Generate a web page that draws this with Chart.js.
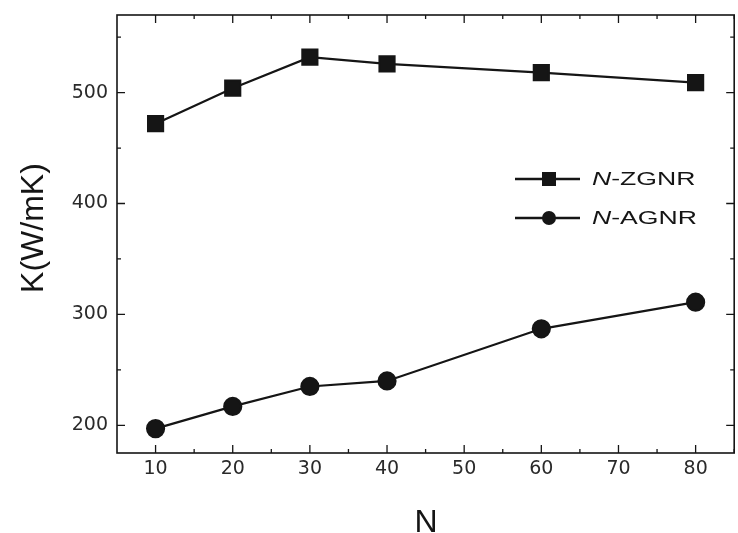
<!DOCTYPE html>
<html>
<head>
<meta charset="utf-8">
<script src="https://cdn.jsdelivr.net/npm/chart.js@4/dist/chart.umd.min.js"></script>
<style>
  html, body { margin: 0; padding: 0; background: #fff; overflow: hidden; }
  #wrap { width: 738px; height: 533px; overflow: hidden; }
  canvas { display: block; }
</style>
</head>
<body>
<div id="wrap"><canvas id="kchart" width="747" height="533"></canvas></div>
<script>
// values
var nValues = [10, 20, 30, 40, 60, 80];
var zgnr = [472, 504, 532, 526, 518, 509];
var agnr = [197, 217, 235, 240, 287, 311];
var xTickValues = [10, 20, 30, 40, 50, 60, 70, 80];
var yTickValues = [200, 300, 400, 500];
var seriesNames = ['-ZGNR', '-AGNR'];

var ink = '#151515';
var tickFont = { family: '"DejaVu Sans", sans-serif', size: 19 };

function toPoints(ys) {
  var pts = [];
  for (var i in nValues) {
    pts.push({ x: nValues[i], y: ys[i] });
  }
  return pts;
}

// stretched text, the source figure is wide-ish
function wideText(ctx, txt, x, y, sx) {
  ctx.save();
  ctx.translate(x, y);
  ctx.scale(sx, 1);
  ctx.fillText(txt, 0, 0);
  var w = ctx.measureText(txt).width * sx;
  ctx.restore();
  return w;
}

// frame, inward ticks, titles and the legend
var framePlugin = {
  id: 'frame',
  afterDraw: function(chart) {
    var ctx = chart.ctx;
    var a = chart.chartArea;
    var xs = chart.scales.x, ys = chart.scales.y;
    ctx.save();
    ctx.strokeStyle = ink;
    ctx.lineWidth = 1.6;
    ctx.strokeRect(a.left, a.top, a.right - a.left, a.bottom - a.top);

    ctx.lineWidth = 1.3;
    ctx.beginPath();
    for (var v = 10; v <= 85; v += 5) {
      var px = xs.getPixelForValue(v);
      var len = (v % 10 === 0) ? 8 : 4;
      ctx.moveTo(px, a.bottom); ctx.lineTo(px, a.bottom - len);
      ctx.moveTo(px, a.top); ctx.lineTo(px, a.top + len);
    }
    for (var w = 200; w <= 550; w += 50) {
      var py = ys.getPixelForValue(w);
      var len2 = (w % 100 === 0) ? 8 : 4;
      ctx.moveTo(a.left, py); ctx.lineTo(a.left + len2, py);
      ctx.moveTo(a.right, py); ctx.lineTo(a.right - len2, py);
    }
    ctx.stroke();

    // axis titles
    ctx.fillStyle = ink;
    ctx.font = '32px "Liberation Sans", Arial, sans-serif';
    ctx.textAlign = 'center';
    ctx.textBaseline = 'alphabetic';
    ctx.fillText('N', 426, 532);
    ctx.save();
    ctx.translate(43, 228);
    ctx.rotate(-Math.PI / 2);
    ctx.fillText('K(W/mK)', 0, 0);
    ctx.restore();

    // legend
    var rows = [179, 218];
    chart.data.datasets.forEach(function(ds, i) {
      var y = rows[i];
      ctx.strokeStyle = ink;
      ctx.lineWidth = 2.5;
      ctx.beginPath();
      ctx.moveTo(515, y); ctx.lineTo(580, y);
      ctx.stroke();
      ctx.fillStyle = ink;
      if (ds.pointStyle === 'rect') {
        ctx.fillRect(549 - 7, y - 7, 14, 14);
      } else {
        ctx.beginPath();
        ctx.arc(549, y, 7, 0, Math.PI * 2);
        ctx.fill();
      }
      ctx.textAlign = 'left';
      ctx.textBaseline = 'middle';
      ctx.font = 'italic 19px "Liberation Sans", Arial, sans-serif';
      var nw = wideText(ctx, 'N', 592, y + 1, 1.4);
      ctx.font = '19px "Liberation Sans", Arial, sans-serif';
      wideText(ctx, seriesNames[i], 592 + nw, y + 1, 1.4);
    });
    ctx.restore();
  }
};

function noPad(s) {
  s.paddingTop = 0; s.paddingBottom = 0; s.paddingLeft = 0; s.paddingRight = 0;
}

var chartdata = {
  datasets: [
    {
      label: 'N-ZGNR',
      data: toPoints(zgnr),
      borderColor: ink,
      backgroundColor: ink,
      borderWidth: 2.2,
      pointStyle: 'rect',
      pointRadius: 10.6,
      pointHoverRadius: 10.6,
      tension: 0
    },
    {
      label: 'N-AGNR',
      data: toPoints(agnr),
      borderColor: ink,
      backgroundColor: ink,
      borderWidth: 2.2,
      pointStyle: 'circle',
      pointRadius: 8.5,
      pointHoverRadius: 8.5,
      tension: 0
    }
  ]
};

var ctx = document.getElementById('kchart');
new Chart(ctx, {
  type: 'line',
  data: chartdata,
  plugins: [framePlugin],
  options: {
    responsive: false,
    animation: false,
    layout: { padding: { top: 15, right: 4, left: 0, bottom: 0 } },
    plugins: { legend: { display: false }, tooltip: { enabled: false } },
    scales: {
      x: {
        type: 'linear',
        min: 5,
        max: 85,
        grid: { display: false, drawTicks: false },
        border: { display: false },
        afterBuildTicks: function(s) { s.ticks = xTickValues.map(function(v) { return { value: v }; }); },
        afterFit: function(s) { s.height = 80; noPad(s); },
        ticks: { color: '#2a2a2a', font: tickFont, padding: 5, maxRotation: 0 }
      },
      y: {
        type: 'linear',
        min: 175,
        max: 570,
        grid: { display: false, drawTicks: false },
        border: { display: false },
        afterBuildTicks: function(s) { s.ticks = yTickValues.map(function(v) { return { value: v }; }); },
        afterFit: function(s) { s.width = 117; noPad(s); },
        ticks: { color: '#2a2a2a', font: tickFont, padding: 9 }
      }
    }
  }
});
</script>
</body>
</html>
